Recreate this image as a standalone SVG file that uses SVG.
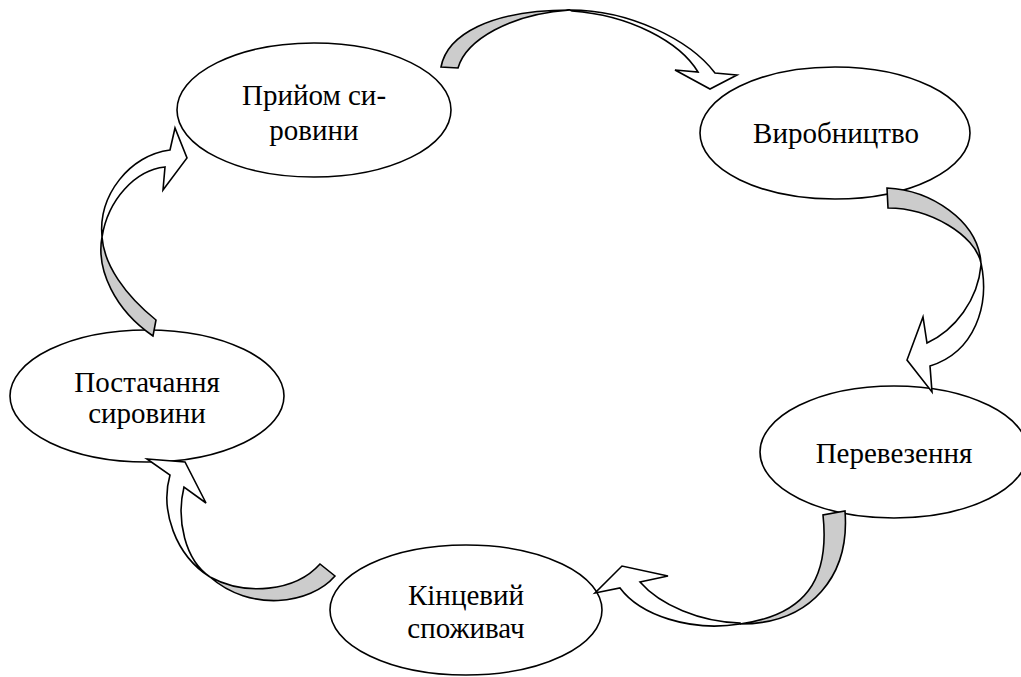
<svg xmlns="http://www.w3.org/2000/svg" width="1021" height="677" viewBox="0 0 1021 677">
<style>
.node ellipse{fill:#fff;stroke:#000;stroke-width:1.6}
.node text{font-family:'Liberation Serif','DejaVu Serif',serif;font-size:29px;fill:#000;text-anchor:middle}
.back{fill:#cccccc;stroke:#000;stroke-width:1.6;stroke-linejoin:miter}
.front{fill:#fff;stroke:#000;stroke-width:1.6;stroke-linejoin:miter}
</style>
<rect width="1021" height="677" fill="#fff"/>
<g id="node-pryiom" class="node">
<ellipse cx="314" cy="110" rx="137" ry="67"/>
<text x="314" y="105" font-family="Liberation Serif, DejaVu Serif, serif">Прийом си-</text>
<text x="314" y="140" font-family="Liberation Serif, DejaVu Serif, serif">ровини</text>
</g>
<g id="node-vyrobnytstvo" class="node">
<ellipse cx="835" cy="133" rx="135" ry="66"/>
<text x="836" y="143" font-family="Liberation Serif, DejaVu Serif, serif">Виробництво</text>
</g>
<g id="node-perevezennia" class="node">
<ellipse cx="894" cy="452" rx="134" ry="66"/>
<text x="894" y="463" font-family="Liberation Serif, DejaVu Serif, serif">Перевезення</text>
</g>
<g id="node-kintsevyi" class="node">
<ellipse cx="466" cy="610" rx="136" ry="65"/>
<text x="466" y="605" font-family="Liberation Serif, DejaVu Serif, serif">Кінцевий</text>
<text x="466" y="638" font-family="Liberation Serif, DejaVu Serif, serif">споживач</text>
</g>
<g id="node-postachannia" class="node">
<ellipse cx="147" cy="396" rx="137" ry="66"/>
<text x="147" y="392" font-family="Liberation Serif, DejaVu Serif, serif">Постачання</text>
<text x="147" y="423" font-family="Liberation Serif, DejaVu Serif, serif">сировини</text>
</g>
<g id="connectors">
<g id="arrow-1">
<path class="back" d="M441,67 C447,35 490,10 570,10 C510,14 466,40 458,68 Z"/>
<path class="front" d="M570,10 C630,10 690,40 715,73 L737,75 L710,89 L675,70 L698,72 C680,42 630,15 572,11 Z"/>
</g>
<g id="arrow-2">
<path class="back" d="M887,188 C930,190 978,220 981,263 C975,235 930,208 888,208 Z"/>
<path class="front" d="M981,263 C990,305 975,352 930,366 L932,392 L907,360 L923,317 L927,343 C955,330 978,300 981,265 Z"/>
</g>
<g id="arrow-3">
<path class="back" d="M845,511 C850,575 812,624 740,624 C805,615 830,580 823,515 Z"/>
<path class="front" d="M740,624 C690,632 640,615 620,588 L595,593 L622,566 L668,576 L640,582 C660,605 700,622 740,623 Z"/>
</g>
<g id="arrow-4">
<path class="back" d="M335,576 C310,605 250,612 210,577 C245,596 295,592 320,564 Z"/>
<path class="front" d="M210,577 C175,555 160,510 170,475 L147,459 L185,462 L206,503 L184,487 C176,520 185,560 210,577 Z"/>
</g>
<g id="arrow-5">
<path class="back" d="M153,336 C115,310 96,270 102,237 C104,265 125,295 156,320 Z"/>
<path class="front" d="M102,237 C98,195 130,155 170,150 L175,128 L187,158 L163,190 L165,167 C135,170 108,200 102,237 Z"/>
</g>
</g>
</svg>
